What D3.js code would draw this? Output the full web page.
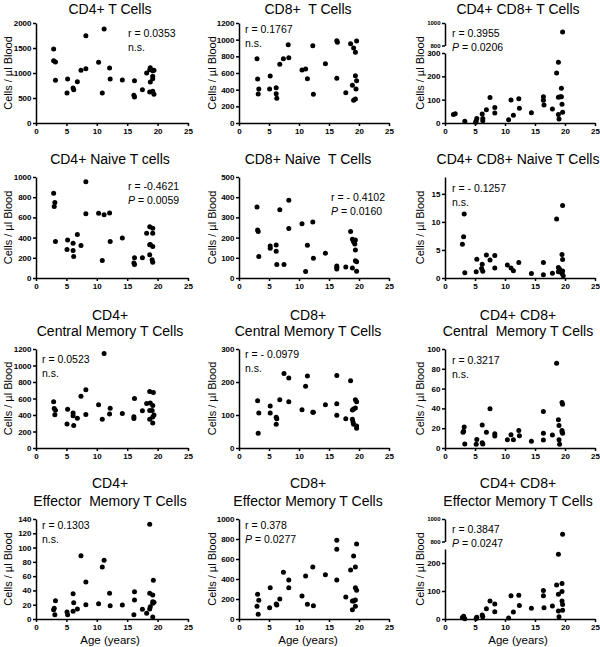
<!DOCTYPE html>
<html>
<head>
<meta charset="utf-8">
<script src="https://cdn.jsdelivr.net/npm/d3@7"></script>
<style>
body { margin: 0; background: #fff; }
text { font-family: Arial, "Liberation Sans", sans-serif; }
</style>
</head>
<body>
<div id="chart"></div>
<script>
var width = 600, height = 647;

// panel titles (one or two lines)
var titles = [
  ["CD4+ T Cells"], ["CD8+  T Cells"], ["CD4+ CD8+ T Cells"],
  ["CD4+ Naive T cells"], ["CD8+ Naive  T Cells"], ["CD4+ CD8+ Naive T Cells"],
  ["CD4+", "Central Memory T Cells"], ["CD8+", "Central Memory T Cells"], ["CD4+ CD8+", "Central  Memory T Cells"],
  ["CD4+", "Effector  Memory T Cells"], ["CD8+", "Effector Memory T Cells"], ["CD4+ CD8+", "Effector Memory T Cells"]
];
var rValues = ["r = 0.0353", "r = 0.1767", "r = 0.3955", "r = -0.4621", "r = - 0.4102", "r = - 0.1257",
               "r = 0.0523", "r = - 0.0979", "r = 0.3217", "r = 0.1303", "r = 0.378", "r = 0.3847"];
var pValues = [null, null, "0.0206", "0.0059", "0.0160", null, null, null, null, null, "0.0277", "0.0247"];

var yMax = [2000, 1200, 1000, 1000, 500, 18, 1200, 300, 100, 140, 1000, 1000];
var yTicks = [
  [0, 500, 1000, 1500, 2000], [0, 200, 400, 600, 800, 1000, 1200], [0, 100, 200, 300],
  [0, 200, 400, 600, 800, 1000], [0, 100, 200, 300, 400, 500], [0, 5, 10, 15],
  [0, 200, 400, 600, 800, 1000, 1200], [0, 100, 200, 300], [0, 20, 40, 60, 80, 100],
  [0, 20, 40, 60, 80, 100, 120, 140], [0, 200, 400, 600, 800, 1000], [0, 100, 200]
];
// broken axes: lower segment top, upper segment range
var lowerMax = {2: 300, 11: 250};
var upperDomain = [800, 1000];
var upperTicks = [800, 1000];
var xTicks = [0, 5, 10, 15, 20, 25];

// [age, cells/ul]
var cd4T = [[2.9,1480],[2.9,1247],[3.2,1220],[3.2,853],[5.2,880],[5.1,600],[6.1,700],[6.2,667],[6.8,827],
  [7.4,1053],[8.2,1747],[8.2,1087],[10.3,1213],[10.9,600],[11.2,1880],[12.1,1100],[12.2,880],[14.2,860],
  [16.2,847],[16.1,553],[16.2,520],[17.5,667],[18.2,1000],[18.7,1067],[18.8,1107],[18.8,820],[18.7,620],
  [19.2,1047],[19.2,933],[19.2,887],[19.2,633],[19.4,573],[19.4,1053]];
var cd8T = [[3.0,772],[3.1,528],[3.3,408],[3.2,348],[5.2,564],[5.1,408],[6.2,424],[6.2,352],[6.3,296],
  [6.8,704],[7.4,772],[8.2,940],[8.3,784],[10.5,636],[11.1,648],[11.4,532],[12.3,928],[12.4,344],[14.4,712],
  [16.3,988],[16.4,968],[16.3,536],[17.8,364],[18.6,952],[19.1,900],[19.4,848],[19.6,984],[19.4,568],
  [19.6,508],[19.5,408],[18.9,452],[19.1,272],[19.4,288]];
var dpT = [[1.4,36],[1.7,40],[3.3,7],[5.1,3],[5.2,9],[5.3,19],[6.2,39],[6.3,19],[6.3,10],[6.9,57],[7.5,109],
  [8.3,66],[8.3,43],[10.6,14],[11.0,99],[11.4,33],[12.3,104],[12.4,63],[14.4,44],[16.4,113],[16.4,97],
  [16.5,77],[17.9,60],[18.6,214],[18.9,260],[18.9,110],[19.2,113],[19.4,113],[19.4,149],[19.5,80],
  [19.6,46],[18.9,36],[19.0,17],[19.6,920]];
var cd4Naive = [[2.9,840],[3.1,748],[3.0,708],[3.2,361],[5.2,377],[5.1,282],[6.1,344],[6.1,272],[6.2,213],
  [6.8,430],[7.4,321],[8.2,954],[8.2,636],[10.3,640],[10.9,174],[11.2,626],[12.1,643],[12.2,361],[14.2,397],
  [16.2,200],[16.1,148],[16.2,134],[17.5,200],[18.2,443],[18.7,508],[18.7,328],[18.7,230],[19.2,492],
  [19.2,443],[19.2,312],[19.1,180],[19.2,157],[18.8,331]];
var cd8Naive = [[3.0,352],[3.1,238],[3.2,230],[3.3,107],[5.2,158],[5.2,147],[6.2,163],[6.2,133],[6.3,67],
  [6.8,338],[7.5,67],[8.3,385],[8.3,245],[10.5,268],[11.1,32],[11.4,162],[12.3,277],[12.4,98],[14.4,123],
  [16.3,60],[16.3,52],[16.3,45],[17.8,55],[18.6,230],[18.9,192],[19.1,180],[19.3,168],[19.4,188],
  [19.4,138],[19.4,85],[19.6,80],[18.9,50],[19.6,33],[19.2,178]];
var dpNaive = [[3.2,11.4],[3.1,7.35],[2.9,6.0],[3.3,0.95],[5.3,3.35],[5.2,1.1],[6.2,2.45],[6.1,1.7],[6.3,1.2],
  [6.9,4.1],[7.5,3.2],[8.3,4.0],[8.3,1.8],[10.4,2.3],[11.0,1.8],[11.4,1.3],[12.3,2.75],[14.4,0.78],
  [16.4,2.75],[16.4,0.6],[17.9,0.84],[18.6,10.5],[19.6,12.9],[19.5,4.2],[19.6,3.3],[18.9,1.85],
  [19.1,1.55],[19.2,1.1],[19.6,1.25],[19.5,0.8],[19.7,0.4],[18.9,1.1]];
var cd4CM = [[2.9,560],[3.0,479],[3.2,459],[3.1,403],[5.2,471],[5.1,290],[6.1,423],[6.1,391],[6.2,274],
  [6.8,362],[7.4,628],[8.2,705],[8.2,407],[10.3,523],[10.9,350],[11.2,1144],[12.2,483],[12.1,411],[14.2,419],
  [16.2,600],[16.1,379],[16.1,358],[17.5,451],[18.2,540],[18.7,685],[18.8,544],[18.7,350],[18.7,455],
  [19.3,673],[19.2,515],[19.1,455],[19.2,375],[19.2,302],[19.4,399]];
var cd8CM = [[3.1,143],[3.3,106],[3.2,45],[5.2,127],[5.2,106],[6.2,93],[6.3,89],[6.2,72],[6.8,146],
  [7.5,226],[8.3,212],[8.3,140],[10.5,116],[11.1,187],[11.4,218],[12.3,108],[12.4,108],[14.4,131],
  [16.3,220],[16.3,134],[16.3,99],[17.8,89],[18.6,204],[18.9,115],[19.1,118],[18.9,87],[19.0,79],
  [19.1,72],[19.4,146],[19.6,140],[19.4,121],[19.6,67],[19.6,60]];
var dpCM = [[3.1,16.8],[3.2,21.1],[3.0,16],[3.3,4.0],[5.3,8.7],[5.2,3.7],[6.2,23.2],[6.2,5.4],[6.3,4.0],
  [6.9,15.8],[7.5,39.6],[8.3,14.4],[8.3,12.1],[10.4,8.4],[11.0,13.4],[11.4,8.4],[12.3,17.8],[12.4,12.4],
  [14.4,6.7],[16.4,36.9],[16.4,14.8],[16.4,8.1],[17.9,13.1],[18.6,85.6],[18.9,28.5],[19.0,22.8],
  [19.0,8.4],[19.1,3.7],[19.5,46],[19.6,44.3],[19.5,17.8],[19.5,16.1],[19.6,14.8]];
var cd4EM = [[3.0,14.9],[2.9,13.1],[3.2,25.7],[3.1,6.1],[5.1,9.8],[5.2,6.1],[6.1,35.5],[6.2,22.9],[6.1,10.7],
  [6.8,14.0],[7.4,88.7],[8.2,51.8],[8.2,20.1],[10.3,21.5],[10.9,72.8],[11.2,82.1],[12.1,35.9],[12.2,18.7],
  [14.2,19.6],[16.2,38.3],[16.2,26.6],[16.1,6.1],[17.5,13.5],[18.2,7.9],[18.7,132.5],[18.7,35.9],
  [18.8,17.3],[18.7,14.0],[19.2,33.6],[19.3,54.1],[19.2,24.3],[19.2,21.9],[19.4,23.3],[19.2,2.8]];
var cd8EM = [[3.1,247],[3.0,127],[3.3,187],[3.2,47],[5.2,313],[5.1,113],[6.2,150],[6.3,140],[6.8,200],
  [7.4,467],[8.3,390],[8.3,313],[10.5,230],[11.1,430],[11.4,147],[12.3,520],[12.4,133],[14.4,443],
  [16.3,787],[16.3,697],[16.3,390],[17.8,220],[18.6,490],[19.1,630],[19.4,520],[19.6,750],[19.4,313],
  [19.6,287],[19.4,190],[18.9,180],[19.1,180],[19.4,127],[18.9,93]];
var dpEM = [[3.1,10],[2.9,5],[3.3,1],[5.2,2],[5.3,6],[6.2,14],[6.3,8],[6.9,37],[7.5,64],[8.3,54],[8.3,26],
  [10.6,4],[11.0,83],[11.4,25],[12.3,85],[12.4,48],[14.4,38],[16.4,102],[16.4,83],[16.5,40],[17.9,46],
  [18.6,121],[18.9,231],[18.9,88],[19.0,8],[18.9,29],[19.5,127],[19.5,98],[19.5,64],[19.6,52],[19.6,31],
  [19.6,864]];

var points = [cd4T, cd8T, dpT, cd4Naive, cd8Naive, dpNaive, cd4CM, cd8CM, dpCM, cd4EM, cd8EM, dpEM];

// layout
var colX = [36, 239, 445], colW = [152, 150, 150];
var rowTop = [23, 177, 349, 519], rowBot = [123, 278, 448, 619];
var titleX = [110, 308, 518];
var titleBase = [[14], [164], [320, 336], [488, 506]];
var ylabX = [8, 212, 420];
var annot = [[128,37],[245,33],[452,37],[128,190],[331,201],[452,192],[42,363],[245,358],[452,364],[42,529],[245,529],[452,533]];

var svg = d3.select('#chart').append('svg')
  .attr('width', width)
  .attr('height', height);

var fmt = d3.format('d');

function styleAxis(g) {
  g.selectAll('path, line').attr('stroke', '#000').attr('stroke-width', 1.5);
  g.selectAll('text').style('font-size', '8px').style('font-weight', 'bold')
    .style('font-family', 'Arial, "Liberation Sans", sans-serif').attr('fill', '#000');
}

function drawPanel(i) {
  var row = Math.floor(i / 3), col = i % 3;
  var x0 = colX[col], yTop = rowTop[row], yBot = rowBot[row];
  var g = svg.append('g');

  var x = d3.scaleLinear().domain([0, 25]).range([x0, x0 + colW[col]]);

  var yLow, yUp = null;
  if (lowerMax[i] !== undefined) {
    yUp = d3.scaleLinear().domain(upperDomain).range([yTop + 22.5, yTop]);
    yLow = d3.scaleLinear().domain([0, lowerMax[i]]).range([yBot, yTop + 30]);
  } else {
    yLow = d3.scaleLinear().domain([0, yMax[i]]).range([yBot, yTop]);
  }

  g.append('g')
    .attr('transform', 'translate(0,' + yBot + ')')
    .call(d3.axisBottom(x).tickValues(xTicks).tickFormat(fmt).tickSize(3).tickSizeOuter(0).tickPadding(2))
    .call(styleAxis);

  g.append('g')
    .attr('transform', 'translate(' + x0 + ',0)')
    .call(d3.axisLeft(yLow).tickValues(yTicks[i]).tickFormat(fmt).tickSize(3).tickSizeOuter(0).tickPadding(1.5))
    .call(styleAxis);

  if (yUp) {
    g.append('g')
      .attr('transform', 'translate(' + x0 + ',0)')
      .call(d3.axisLeft(yUp).tickValues(upperTicks).tickFormat(fmt).tickSize(3).tickSizeOuter(0).tickPadding(1.5))
      .call(styleAxis)
      .selectAll('text').style('font-size', '6px');
  }

  var brk = lowerMax[i];
  g.selectAll('circle.dot').data(points[i]).enter().append('circle')
    .attr('class', 'dot')
    .attr('cx', function(d) { return x(d[0]); })
    .attr('cy', function(d) { return (yUp && d[1] > brk) ? yUp(d[1]) : yLow(d[1]); })
    .attr('r', 2.5)
    .attr('fill', '#000');

  // title
  titles[i].forEach(function(t, k) {
    g.append('text')
      .attr('x', titleX[col])
      .attr('y', titleBase[row][k])
      .attr('text-anchor', 'middle')
      .style('font-size', '14px')
      .style('white-space', 'pre')
      .text(t);
  });

  // y label
  g.append('text')
    .attr('transform', 'translate(' + (ylabX[col] + 4) + ',' + ((yTop + yBot) / 2) + ') rotate(-90)')
    .attr('text-anchor', 'middle')
    .style('font-size', '11px')
    .text('Cells / \u00b5l Blood');

  // stats
  var a = annot[i];
  g.append('text').attr('x', a[0]).attr('y', a[1]).style('font-size', '10.5px').style('white-space', 'pre').text(rValues[i]);
  var t2 = g.append('text').attr('x', a[0]).attr('y', a[1] + 13.5).style('font-size', '10.5px').style('white-space', 'pre');
  if (pValues[i]) {
    t2.append('tspan').style('font-style', 'italic').text('P');
    t2.append('tspan').text(' = ' + pValues[i]);
  } else {
    t2.text('n.s.');
  }

  if (row === 3) {
    g.append('text')
      .attr('x', titleX[col])
      .attr('y', 644)
      .attr('text-anchor', 'middle')
      .style('font-size', '11.5px')
      .text('Age (years)');
  }
}

for (var i = 0; i < 12; i++) drawPanel(i);
</script>
</body>
</html>
